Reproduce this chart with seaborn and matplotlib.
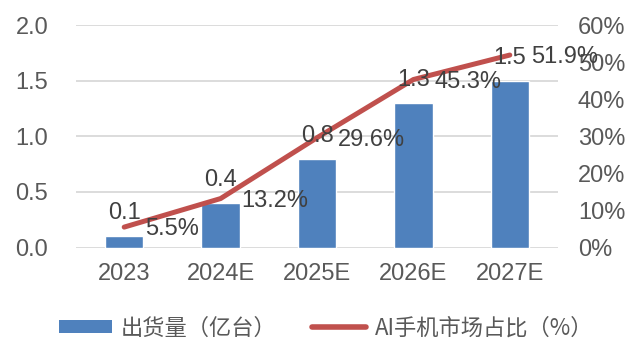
import matplotlib
matplotlib.use("Agg")
import matplotlib.pyplot as plt
from matplotlib.patches import Patch
from matplotlib.lines import Line2D
from matplotlib.ticker import FuncFormatter, MultipleLocator
import seaborn as sns
import pandas as pd

# Shipments (100 million units) and AI phone market share (%)
years = ["2023", "2024E", "2025E", "2026E", "2027E"]
shipments = [0.1, 0.4, 0.8, 1.3, 1.5]
ai_share = [5.5, 13.2, 29.6, 45.3, 51.9]
legend_labels = ["出货量（亿台）", "AI手机市场占比（%）"]

BAR_COLOR = "#4F81BD"
LINE_COLOR = "#C0504D"
TICK_COLOR = "#595959"
LABEL_COLOR = "#404040"
FS = 17

sns.set_theme(style="white")
plt.rcParams["font.family"] = ["Liberation Sans", "Noto Sans CJK SC", "DejaVu Sans"]

df = pd.DataFrame({"year": years, "shipments": shipments, "share": ai_share})

W, H = 640, 340
fig = plt.figure(figsize=(W / 100, H / 100), dpi=100)
left, right, top, bottom = 76, 558, 25, 247.5
ax = fig.add_axes([left / W, 1 - bottom / H, (right - left) / W, (bottom - top) / H])

sns.barplot(data=df, x="year", y="shipments", color=BAR_COLOR, width=0.4,
            saturation=1, ax=ax, zorder=2)
ax.set_ylim(0, 2.0)
ax.set_xlim(-0.5, len(years) - 0.5)
ax.yaxis.set_major_locator(MultipleLocator(0.5))
ax.yaxis.set_major_formatter(FuncFormatter(lambda v, _: f"{v:.1f}"))
ax.yaxis.grid(True, color="#D9D9D9", lw=1.3, zorder=0)
ax.set_axisbelow(True)
ax.set_xlabel("")
ax.set_ylabel("")
for s in ax.spines.values():
    s.set_visible(False)
ax.tick_params(axis="y", length=0, pad=20, labelsize=FS, labelcolor=TICK_COLOR)
ax.tick_params(axis="x", length=0, pad=11, labelsize=FS, labelcolor=TICK_COLOR)

ax2 = ax.twinx()
sns.lineplot(data=df, x="year", y="share", color=LINE_COLOR, lw=3.6, sort=False,
             ax=ax2, solid_capstyle="round")
ax2.set_ylim(0, 60)
ax2.yaxis.set_major_locator(MultipleLocator(10))
ax2.yaxis.set_major_formatter(FuncFormatter(lambda v, _: f"{v:.0f}%"))
ax2.set_ylabel("")
ax2.set_xlabel("")
for s in ax2.spines.values():
    s.set_visible(False)
ax2.tick_params(axis="y", length=0, pad=14.4, labelsize=FS, labelcolor=TICK_COLOR)

# Value labels: shipments above bars, share to the right of line points
for i, (v, p) in enumerate(zip(shipments, ai_share)):
    ax2.annotate(f"{v:.1f}", xy=(i, v * 30), xytext=(0, 23),
                 textcoords="offset pixels", ha="center", va="center",
                 fontsize=FS, color=LABEL_COLOR)
    ax2.annotate(f"{p:.1f}%", xy=(i, p), xytext=(21, -2),
                 textcoords="offset pixels", ha="left", va="center",
                 fontsize=FS, color=LABEL_COLOR)

handles = [Patch(facecolor=BAR_COLOR, edgecolor="none"),
           Line2D([0], [0], color=LINE_COLOR, lw=4, solid_capstyle="round")]
fig.legend(handles, legend_labels, loc="center", bbox_to_anchor=(326 / W, 1 - 328 / H),
           ncol=2, frameon=False, labelcolor=TICK_COLOR,
           handlelength=2.4, handleheight=0.55, handletextpad=0.4, columnspacing=1.6,
           borderpad=0, borderaxespad=0,
           prop={"family": ["Noto Sans CJK SC", "Liberation Sans"], "size": 16})

fig.savefig("out.png", dpi=100)
